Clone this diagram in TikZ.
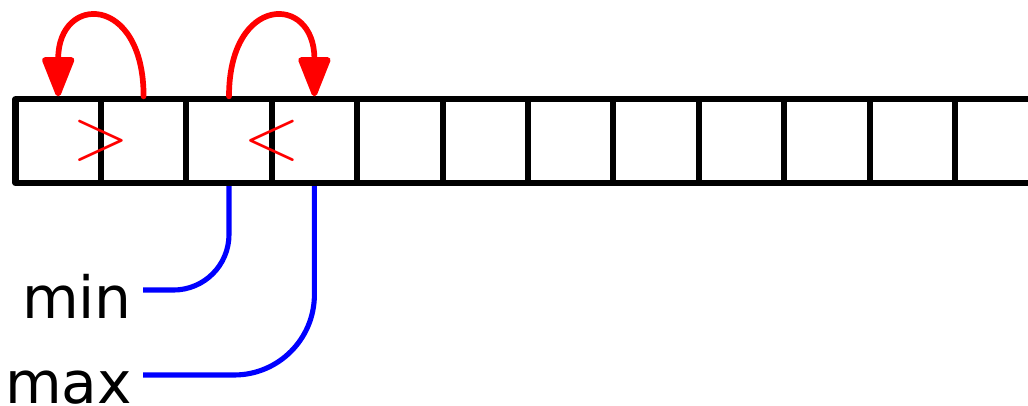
\documentclass[tikz,border=0pt]{standalone}
\usepackage{fontspec}
\setmainfont{DejaVu Sans}
\usetikzlibrary{calc,arrows.meta,positioning}
\definecolor{SwapRed}{HTML}{FF0000}
\definecolor{PointerBlue}{HTML}{0000FF}

\begin{document}
\begin{tikzpicture}[line cap=round,line join=round,
  cell/.style={draw,line width=2pt,minimum width=1cm,minimum height=0.98cm,inner sep=0pt},
  swap/.style={SwapRed,line width=1.9pt,-{Triangle[length=5.2mm,width=3.9mm,round]}},
  cmp/.style={SwapRed,font=\fontsize{24.2}{29}\selectfont,inner sep=0pt},
  ptr/.style={PointerBlue,line width=1.7pt,line cap=butt},
  lbl/.style={font=\fontsize{19.4}{23}\selectfont,text height=19pt,text depth=0pt,inner sep=3.5pt,anchor=east}]
  \useasboundingbox (-0.1815,-2.6) rectangle (11.856,2.143);
  \clip (-0.1815,-2.6) rectangle (11.856,2.143);

  \foreach \i in {0,...,12}
    \node[cell] (c\i) at (\i+0.5,0.49) {};

  \draw[swap] (c1.north) .. controls +(0,1.2) and +(0,1.2) .. (c0.north);
  \draw[swap] (c2.north) .. controls +(0,1.2) and +(0,1.2) .. (c3.north);
  \node[cmp] (gt) at ($(c0.east)!.5!(c1.west)$) {$>$};
  \node[cmp] (lt) at ($(c2.east)!.5!(c3.west)$) {$<$};

  \node[lbl] (min) at (1.493,-1.253) {min};
  \node[lbl] (max) at (1.493,-2.248) {max};
  \draw[ptr,rounded corners=0.65cm] (c2.south) |- (min.east);
  \draw[ptr,rounded corners=0.94cm] (c3.south) |- (max.east);
\end{tikzpicture}
\end{document}
